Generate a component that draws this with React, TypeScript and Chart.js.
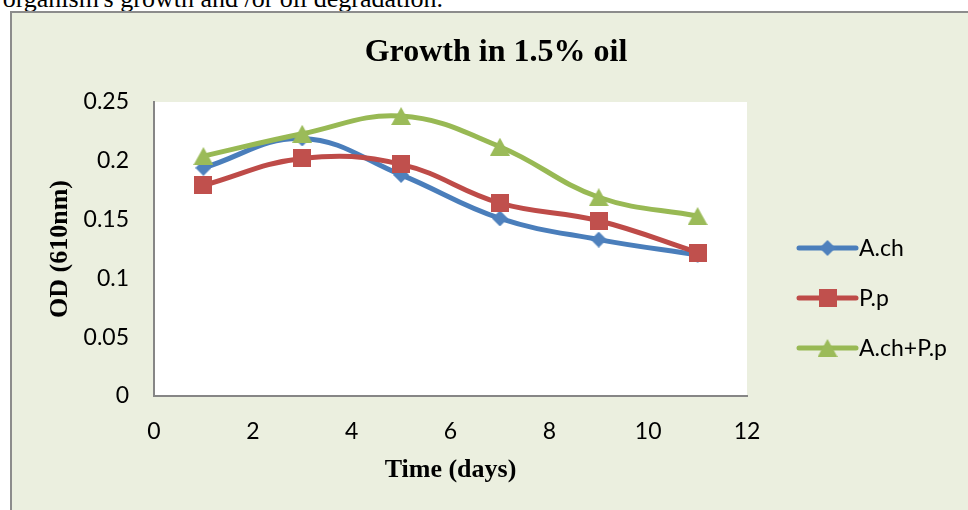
import React, { useEffect, useRef } from "react";
import { Chart, registerables } from "chart.js";

Chart.register(...registerables);

// ---- data ----
const days = [1, 3, 5, 7, 9, 11];
const achValues = [0.194, 0.219, 0.188, 0.151, 0.133, 0.12];
const ppValues = [0.179, 0.202, 0.197, 0.164, 0.149, 0.122];
const mixValues = [0.204, 0.223, 0.238, 0.212, 0.169, 0.153];
const seriesNames = ["A.ch", "P.p", "A.ch+P.p"];
const xTickLabels = ["0", "2", "4", "6", "8", "10", "12"];
const yTickLabels = ["0", "0.05", "0.1", "0.15", "0.2", "0.25"];
const chartTitle = "Growth in 1.5% oil";
const xTitle = "Time (days)";
const yTitle = "OD (610nm)";
const captionText = "organism's growth and /or oil degradation.";

// ---- styles ----
const lineColors = ["#4A7EBB", "#BE4B48", "#98B954"];
const markerColors = ["#4F81BD", "#C0504D", "#9BBB59"];
const markerKinds = ["diamond", "square", "triangle"];
const tickFont = { family: "Lato", size: 23 };
const serifTitle = "Liberation Serif";

function makeMarker(kind: string, color: string): HTMLCanvasElement {
  const c = document.createElement("canvas");
  let w = 16;
  let h = 16;
  if (kind === "square") { w = 18; h = 18; }
  if (kind === "triangle") { w = 20; h = 18; }
  c.width = w;
  c.height = h;
  const g = c.getContext("2d")!;
  g.fillStyle = color;
  g.beginPath();
  if (kind === "diamond") {
    g.moveTo(w / 2, 0); g.lineTo(w, h / 2); g.lineTo(w / 2, h); g.lineTo(0, h / 2);
  } else if (kind === "square") {
    g.rect(0, 0, w, h);
  } else {
    g.moveTo(w / 2, 0); g.lineTo(w, h); g.lineTo(0, h);
  }
  g.closePath();
  g.fill();
  return c;
}

export default function App() {
  const ref = useRef<HTMLCanvasElement | null>(null);

  useEffect(() => {
    const canvas = ref.current;
    if (!canvas) return;
    const markers = markerKinds.map((k, i) => makeMarker(k, markerColors[i]));
    const values = [achValues, ppValues, mixValues];
    const orders = [2, 1, 0];

    const datasets = values.map((vals, i) => ({
      label: seriesNames[i],
      data: days.map((d, j) => ({ x: d, y: vals[j] })),
      borderColor: lineColors[i],
      backgroundColor: markerColors[i],
      borderWidth: 5,
      borderCapStyle: "round" as const,
      borderJoinStyle: "round" as const,
      tension: 0.4,
      pointStyle: markers[i],
      pointRadius: 9,
      order: orders[i],
    }));

    const bgPlugin = {
      id: "plotBg",
      beforeDraw(chart: any) {
        const { ctx, chartArea } = chart;
        ctx.save();
        ctx.fillStyle = "#ffffff";
        ctx.fillRect(chartArea.left, chartArea.top, chartArea.right - chartArea.left, chartArea.bottom - chartArea.top);
        ctx.restore();
      },
    };

    const titlePlugin = {
      id: "bigTitle",
      afterDraw(chart: any) {
        const { ctx } = chart;
        ctx.save();
        ctx.font = `bold 32px '${serifTitle}'`;
        ctx.fillStyle = "#000";
        ctx.textAlign = "center";
        ctx.textBaseline = "alphabetic";
        ctx.fillText(chartTitle, 484, 48);
        ctx.restore();
      },
    };

    const legendPlugin = {
      id: "lineLegend",
      afterDraw(chart: any) {
        const { ctx } = chart;
        const x0 = 787;
        const x1 = 844;
        const rows = [235, 285, 335];
        ctx.save();
        chart.data.datasets.forEach((ds: any, i: number) => {
          const y = rows[i];
          ctx.strokeStyle = lineColors[i];
          ctx.lineWidth = 5;
          ctx.lineCap = "round";
          ctx.beginPath();
          ctx.moveTo(x0, y);
          ctx.lineTo(x1, y);
          ctx.stroke();
          const m = markers[i];
          ctx.drawImage(m, (x0 + x1) / 2 - m.width / 2, y - m.height / 2);
          ctx.font = `${tickFont.size}px ${tickFont.family}`;
          ctx.fillStyle = "#000";
          ctx.textAlign = "left";
          ctx.textBaseline = "middle";
          ctx.fillText(ds.label, x1 + 3, y + 1);
        });
        ctx.restore();
      },
    };

    const chart = new Chart(canvas, {
      type: "line",
      data: { datasets } as any,
      options: {
        animation: false,
        responsive: false,
        maintainAspectRatio: false,
        layout: { padding: { top: 89, right: 221, bottom: 0, left: 0 } },
        plugins: {
          legend: { display: false },
          title: { display: false },
          tooltip: { enabled: false },
        },
        scales: {
          x: {
            type: "linear",
            min: 0,
            max: 12,
            ticks: {
              stepSize: 2,
              padding: 22,
              color: "#000",
              font: tickFont,
              callback: (_v: any, i: number) => xTickLabels[i],
            },
            grid: { display: false, drawTicks: false },
            border: { display: true, color: "#868686", width: 2 },
            title: {
              display: true,
              text: xTitle,
              color: "#000",
              font: { family: serifTitle, size: 26, weight: "bold" },
              padding: { top: 0, bottom: 24 },
            },
            afterFit: (s: any) => { s.height = 114; },
          },
          y: {
            type: "linear",
            min: 0,
            max: 0.25,
            ticks: {
              stepSize: 0.05,
              padding: 25,
              color: "#000",
              font: tickFont,
              callback: (_v: any, i: number) => yTickLabels[i],
            },
            grid: { display: false, drawTicks: false },
            border: { display: true, color: "#868686", width: 2 },
            title: {
              display: true,
              text: yTitle,
              color: "#000",
              font: { family: serifTitle, size: 26, weight: "bold" },
              padding: { top: 33, bottom: 0 },
            },
            afterFit: (s: any) => { s.width = 142; },
          },
        },
      } as any,
      plugins: [bgPlugin, titlePlugin, legendPlugin],
    });

    return () => chart.destroy();
  }, []);

  return (
    <div style={{ position: "absolute", left: 0, top: 0, width: 968, height: 510, overflow: "hidden", background: "#fff" }}>
      <div
        style={{
          position: "absolute",
          right: 968 - 443,
          top: -14,
          font: `26px '${serifTitle}'`,
          lineHeight: "26px",
          whiteSpace: "nowrap",
          color: "#000",
        }}
      >
        {captionText}
      </div>
      <div
        style={{
          position: "absolute",
          left: 10,
          top: 11,
          width: 990,
          height: 520,
          border: "2px solid #8c8c8c",
          background: "#EBEFDF",
        }}
      />
      <canvas ref={ref} width={956} height={497} style={{ position: "absolute", left: 12, top: 13, display: "block" }} />
    </div>
  );
}
